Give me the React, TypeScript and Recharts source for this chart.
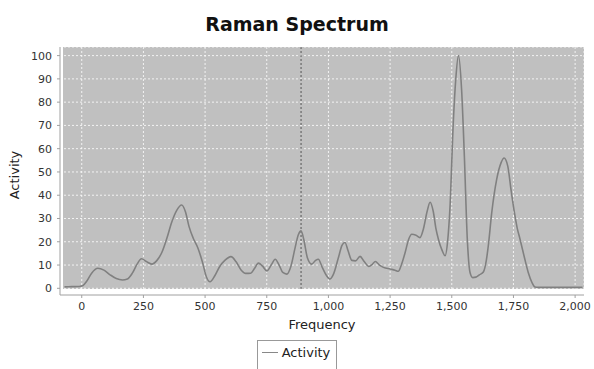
import React from 'react';
import { LineChart, Line, XAxis, YAxis, CartesianGrid, ReferenceArea, ReferenceLine, Legend } from 'recharts';

// Raman spectrum
const frequency = [
  -70, -40, -10, 5, 20, 40, 65, 90, 115, 140, 165, 185, 205, 225, 242, 262, 284, 305, 325, 345,
  365, 385, 405, 420, 435, 452, 470, 490, 505, 520, 540, 560, 580, 605, 625, 645, 665, 685, 700, 716,
  733, 750, 768, 784, 800, 815, 831, 848, 865, 878, 889, 900, 915, 932, 948, 959, 975, 992, 1006, 1020,
  1040, 1055, 1067, 1080, 1095, 1110, 1128, 1145, 1164, 1178, 1190, 1207, 1223, 1250, 1270, 1283, 1297, 1311, 1325, 1338,
  1355, 1371, 1385, 1400, 1412, 1425, 1436, 1446, 1460, 1473, 1483, 1493, 1506, 1516, 1527, 1540, 1551, 1563, 1574, 1585,
  1598, 1612, 1628, 1640, 1648, 1662, 1682, 1700, 1712, 1727, 1740, 1754, 1765, 1777, 1795, 1810, 1825, 1837, 1850, 1900,
  1950, 2000, 2030,
];
const activity = [
  0.6, 0.7, 0.8, 1.2, 3, 6.5, 8.6, 7.8, 5.8, 4.2, 3.6, 4, 6.5, 10.5, 12.7, 11.5, 10.4, 12, 15.5, 21.5,
  28.5, 33.5, 35.8, 33, 26.5, 21.5, 17.5, 11, 5, 2.8, 5.5, 9.5, 12, 13.6, 11.5, 8, 6.4, 6.5, 8.5, 10.8,
  9.5, 7.5, 10, 12.5, 10, 6.8, 6.1, 9.5, 17.5, 23, 24.7, 21, 13, 10.4, 12, 12.5, 9, 5.5, 4, 6,
  13, 18.5, 19.7, 16, 12, 11.8, 13.7, 11.5, 9.4, 10.3, 11.5, 10, 9, 8.3, 7.8, 7.3, 10.5, 15.4, 21, 23.2,
  22.8, 21.8, 25.5, 33, 37, 33, 25.5, 21, 16.5, 14, 20, 35.4, 71, 89.6, 100, 85, 56.8, 21, 6.8, 4.6,
  4.8, 5.8, 7, 12, 18.2, 32.5, 46.8, 54, 56, 52.5, 42.5, 32.5, 26, 21, 13, 6.8, 2.5, 0.6, 0.4, 0.4,
  0.4, 0.4, 0.4,
];
const xTicks = [0, 250, 500, 750, 1000, 1250, 1500, 1750, 2000];
const yTicks = [0, 10, 20, 30, 40, 50, 60, 70, 80, 90, 100];
const markerFrequency = 889;

const xDomain: [number, number] = [-76, 2036];
const yDomain: [number, number] = [-0.3, 103.7];

const data = frequency.map((f, i) => ({ frequency: f, activity: activity[i] }));

const FONT = '"DejaVu Sans", sans-serif';

const LegendBox = () => (
  <div
    style={{
      display: 'inline-flex',
      alignItems: 'center',
      boxSizing: 'border-box',
      height: 31,
      border: '1px solid #999',
      padding: '0 6px 6px 4px',
      fontFamily: FONT,
      fontSize: 13,
      color: '#222',
      background: '#fff',
    }}
  >
    <span style={{ display: 'inline-block', width: 16, borderTop: '1px solid #888', marginRight: 4 }} />
    Activity
  </div>
);

export default function App() {
  return (
    <div style={{ position: 'absolute', left: 0, top: 0, width: 594, height: 369, background: '#fff' }}>
      <div
        style={{
          position: 'absolute',
          top: 12,
          left: 0,
          width: 594,
          textAlign: 'center',
          fontFamily: FONT,
          fontWeight: 'bold',
          fontSize: 19,
          lineHeight: '24px',
          color: '#111',
        }}
      >
        Raman Spectrum
      </div>
      <LineChart width={594} height={369} data={data} margin={{ top: 47, right: 10, left: 0, bottom: 0 }}>
        <ReferenceArea
          x1={xDomain[0]}
          x2={xDomain[1]}
          y1={yDomain[0]}
          y2={yDomain[1]}
          fill="#c0c0c0"
          fillOpacity={1}
          stroke="none"
          zIndex={-200}
        />
        <CartesianGrid stroke="#ffffff" strokeDasharray="2 2" strokeOpacity={0.8} />
        <XAxis
          dataKey="frequency"
          type="number"
          domain={xDomain}
          ticks={xTicks}
          allowDataOverflow
          padding={{ left: 3, right: 0 }}
          height={42}
          tickSize={3}
          tickMargin={4}
          stroke="#a0a0a0"
          tick={{ fill: '#333', fontSize: 11, fontFamily: FONT }}
          tickFormatter={(v: number) => v.toLocaleString('en-US')}
          label={{ value: 'Frequency', position: 'insideTop', offset: 25, fill: '#222', fontSize: 13, fontFamily: FONT }}
        />
        <YAxis
          type="number"
          domain={yDomain}
          ticks={yTicks}
          allowDataOverflow
          padding={{ top: 0, bottom: 6 }}
          width={60}
          tickSize={3}
          tickMargin={5}
          stroke="#a0a0a0"
          tick={{ fill: '#333', fontSize: 11, fontFamily: FONT }}
          label={{ value: 'Activity', angle: -90, position: 'insideLeft', offset: 14, dy: 4, fill: '#222', fontSize: 13, fontFamily: FONT, style: { textAnchor: 'middle' } }}
        />
        <ReferenceLine
          segment={[{ x: markerFrequency, y: yDomain[0] }, { x: markerFrequency, y: yDomain[1] }]}
          stroke="#555"
          strokeDasharray="2 2"
        />
        <Line
          type="monotone"
          dataKey="activity"
          name="Activity"
          stroke="#808080"
          strokeWidth={1.6}
          dot={false}
          isAnimationActive={false}
        />
        <Legend layout="vertical" align="center" verticalAlign="bottom" wrapperStyle={{ top: 339 }} content={() => <LegendBox />} />
      </LineChart>
    </div>
  );
}
